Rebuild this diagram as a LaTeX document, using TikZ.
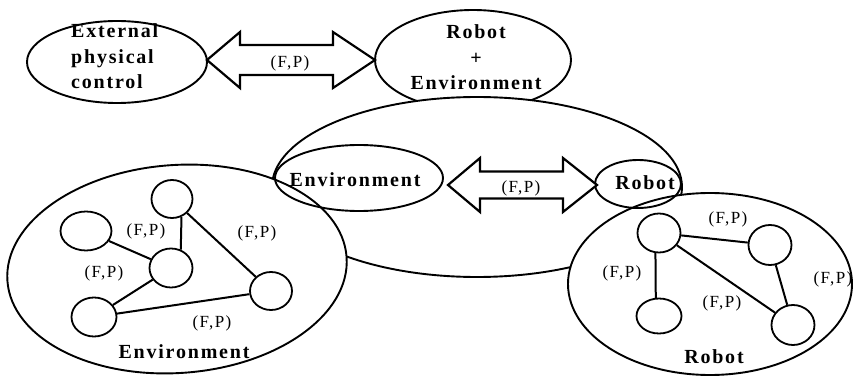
\documentclass[tikz,border=0pt]{standalone}
\usepackage{fontspec}
\usetikzlibrary{shapes.geometric,calc}
\newfontfamily\lblfont[LetterSpace=9]{Liberation Serif}
\newfontfamily\fpfont[LetterSpace=8]{Liberation Serif}
\begin{document}
\begin{tikzpicture}[x=1pt,y=-1pt,
  oval/.style={draw,ellipse,line width=1.9pt,inner sep=0pt,fill=white},
  sm/.style={draw,ellipse,line width=1.8pt,inner sep=0pt,fill=white},
  link/.style={line width=2pt},
  fat/.style={draw,line width=2.2pt,fill=white,line join=miter},
  lbl/.style={font=\lblfont\bfseries\fontsize{20}{25.5}\selectfont,inner sep=0pt},
  fp/.style={font=\fpfont\fontsize{17}{18}\selectfont,inner sep=0pt}]
\useasboundingbox (0,0) rectangle (855,377);
% top ellipses
\node[oval,minimum width=180,minimum height=82] (ext) at (117,62) {};
\node[oval,minimum width=196,minimum height=100] (re) at (473,60) {};
% big middle ellipse
\node[oval,minimum width=410,minimum height=180] (mid) at (477,187) {};
% lower ellipses
\node[oval,minimum width=340,minimum height=208,rotate=4] (envb) at (177,269) {};
\node[oval,minimum width=284,minimum height=182] (robb) at (710,284) {};
% small ellipses in middle
\node[oval,fill=none,minimum width=168,minimum height=66] (envs) at (359,178) {};
\node[oval,fill=none,minimum width=86,minimum height=48] (robs) at (638,184) {};
% texts top
\node[lbl,align=left,anchor=base west] (extt) at (71,89) {External\\physical\\control};
\node[lbl,align=center,anchor=base] (ret) at (476,90) {Robot\\+\\Environment};
\node[lbl,anchor=base] (envst) at (355,187) {Environment};
\node[lbl,anchor=base] (robst) at (645,190) {Robot};
% fat arrows
\coordinate (a1l) at (207,60);
\coordinate (a1r) at (375,60);
\draw[fat] (a1l) -- ++(33,-28) -- ++(0,13) -- ($(a1r)+(-42,-15)$) -- ++(0,-13) -- (a1r)
  -- ++(-42,28) -- ++(0,-13) -- ($(a1l)+(33,15)$) -- ++(0,13) -- cycle;
\node[fp] (fp1) at (290,63) {(F,P)};
\coordinate (a2l) at (448,185);
\coordinate (a2r) at (597,185);
\draw[fat] (a2l) -- ++(32,-27) -- ++(0,13.5) -- ($(a2r)+(-34,-13.5)$) -- ++(0,-13.5) -- (a2r)
  -- ++(-34,27) -- ++(0,-13.5) -- ($(a2l)+(32,13.5)$) -- ++(0,13.5) -- cycle;
\node[fp] (fp2) at (521,188) {(F,P)};
% environment network
\node[sm,minimum width=41,minimum height=38] (c1) at (172,199) {};
\node[sm,minimum width=51,minimum height=39] (c2) at (86,231) {};
\node[sm,minimum width=43,minimum height=39] (c3) at (171,268) {};
\node[sm,minimum width=42,minimum height=38] (c4) at (271,291) {};
\node[sm,minimum width=45,minimum height=39] (c5) at (94,317) {};
\draw[link] (c1.-62) -- (c3.62);
\draw[link] (c2) -- (c3);
\draw[link] (c1) -- (c4);
\draw[link] (c3) -- (c5);
\draw[link] (c5) -- (c4);
\node[fp] (e1) at (146,231) {(F,P)};
\node[fp] (e2) at (257,233) {(F,P)};
\node[fp] (e3) at (104,273) {(F,P)};
\node[fp] (e4) at (212,323) {(F,P)};
\node[lbl,anchor=base] (envbt) at (184,358) {Environment};
% robot network
\node[sm,minimum width=43,minimum height=39] (r1) at (659,233) {};
\node[sm,minimum width=43,minimum height=40] (r2) at (770,245) {};
\node[sm,minimum width=45,minimum height=35] (r3) at (659,316) {};
\node[sm,minimum width=43,minimum height=40] (r4) at (793,325) {};
\draw[link] (r1.-100) -- (r3.100);
\draw[link] (r1) -- (r2);
\draw[link] (r1) -- (r4);
\draw[link] (r2) -- (r4);
\node[fp] (q1) at (728,219) {(F,P)};
\node[fp] (q2) at (622,273) {(F,P)};
\node[fp] (q3) at (833,279) {(F,P)};
\node[fp] (q4) at (722,303) {(F,P)};
\node[lbl,anchor=base] (robbt) at (714,363) {Robot};
\end{tikzpicture}
\end{document}
